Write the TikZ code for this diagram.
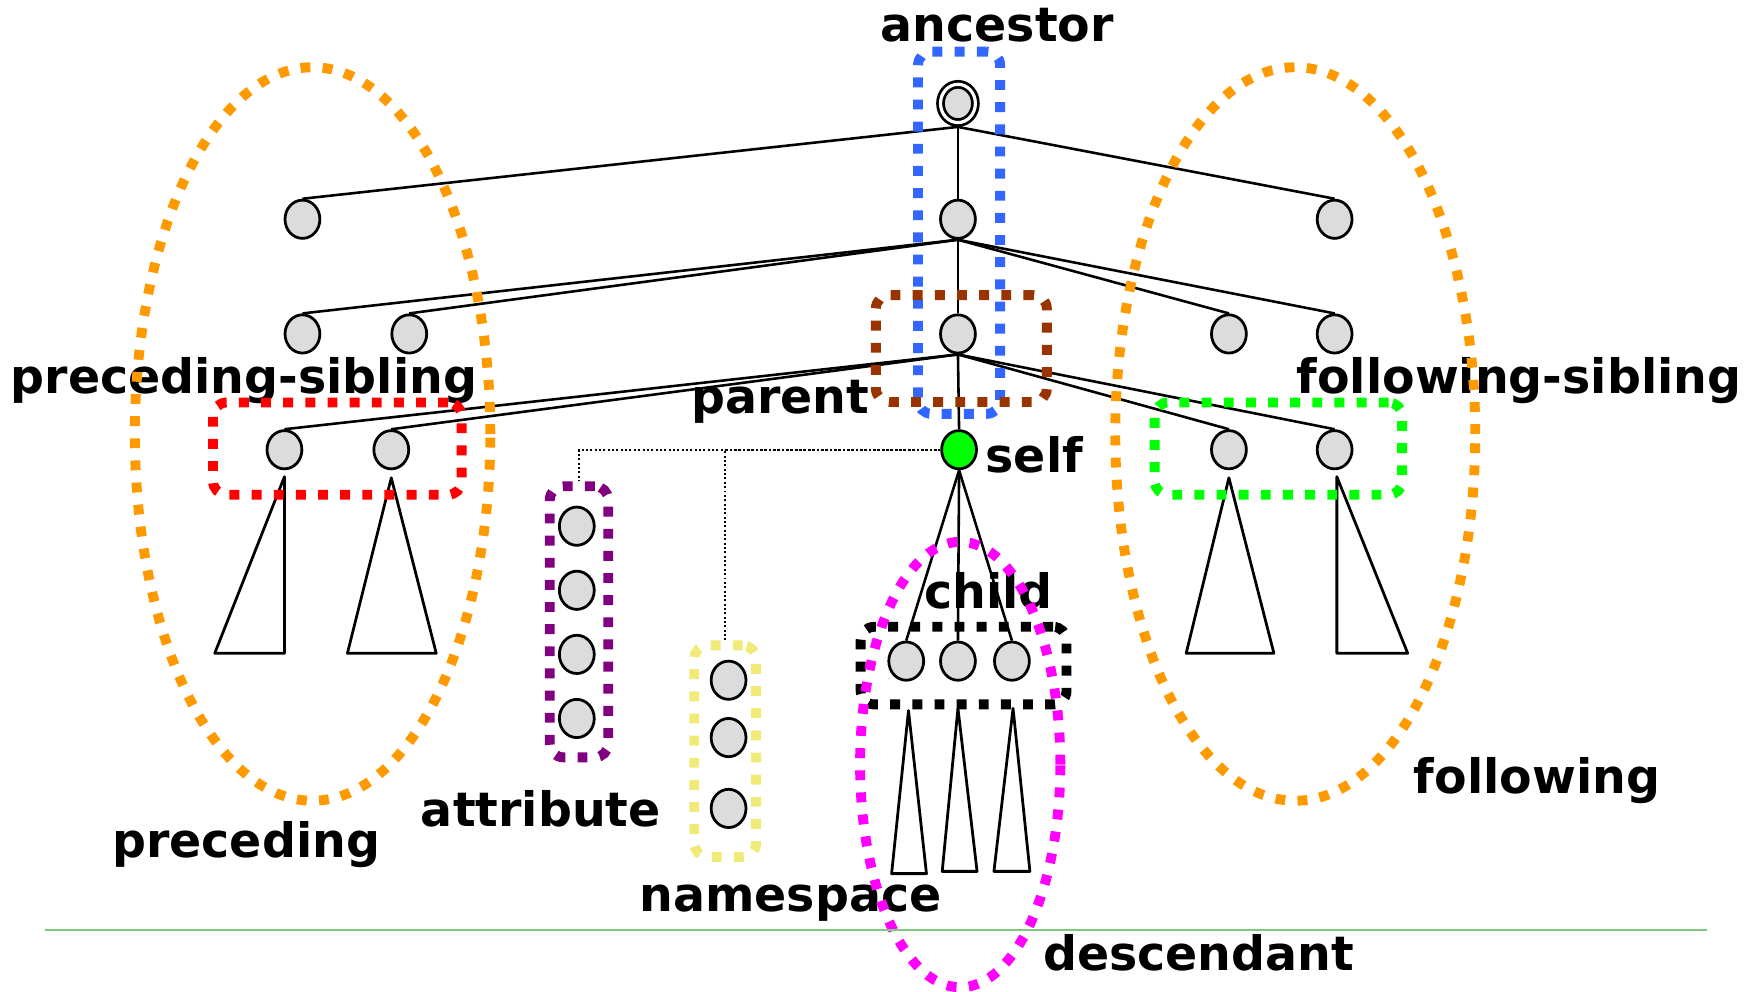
\documentclass[tikz,border=0pt]{standalone}
\usepackage{fontspec}
\setmainfont{DejaVu Sans}
\usepackage{tikz}
\usetikzlibrary{shapes.geometric}

\definecolor{nodegray}{RGB}{220,220,220}
\definecolor{selfgreen}{RGB}{0,255,0}
\definecolor{ancblue}{RGB}{51,102,255}
\definecolor{parbrown}{RGB}{153,51,0}
\definecolor{sibred}{RGB}{255,0,0}
\definecolor{sibgreen}{RGB}{0,255,0}
\definecolor{attrpurple}{RGB}{128,0,128}
\definecolor{nsyellow}{RGB}{240,235,120}
\definecolor{descmagenta}{RGB}{255,0,255}
\definecolor{axisorange}{RGB}{255,153,0}
\definecolor{rulegreen}{RGB}{128,200,128}

\begin{document}
\begin{tikzpicture}[x=0.01cm, y=-0.01cm,
    treenode/.style={ellipse, draw, fill=nodegray, line width=0.7pt, inner sep=0pt, minimum width=0.31cm, minimum height=0.34cm},
    treeline/.style={line width=0.65pt},
    subtree/.style={line width=0.7pt, line join=round},
    axisbox/.style={rectangle, draw=#1, rounded corners=0.12cm, line width=2.5pt, dash pattern=on 2.5pt off 3.1pt, inner sep=0pt},
    axisoval/.style={ellipse, draw=#1, line width=2.5pt, dash pattern=on 2.5pt off 3.1pt, inner sep=0pt},
    axislabel/.style={anchor=base, inner sep=0pt, font=\fontsize{12}{14}\selectfont\bfseries},
    nsline/.style={line width=0.5pt, dash pattern=on 0.5pt off 0.6pt}]
    \useasboundingbox (0,0) rectangle (1568,882);

    % Tree - root and three levels
    \node[treenode, double=white, double distance=0.8pt, outer sep=1.1pt, minimum width=0.31cm, minimum height=0.34cm] (root) at (852,92) {};
    \node[treenode] (n1l) at (269,195) {};
    \node[treenode] (n1m) at (852,195) {};
    \node[treenode] (n1r) at (1187,195) {};
    \node[treenode] (n2a) at (269,297) {};
    \node[treenode] (n2b) at (364,297) {};
    \node[treenode] (par) at (852,297) {};
    \node[treenode] (n2d) at (1093,297) {};
    \node[treenode] (n2e) at (1187,297) {};
    \node[treenode] (sib1) at (253,400) {};
    \node[treenode] (sib2) at (348,400) {};
    \node[treenode, fill=selfgreen] (self) at (853,400) {};
    \node[treenode] (sib3) at (1093,400) {};
    \node[treenode] (sib4) at (1187,400) {};

    % Children of self
    \node[treenode] (ch1) at (806,588) {};
    \node[treenode] (ch2) at (852,588) {};
    \node[treenode] (ch3) at (900,588) {};

    % Attribute and namespace nodes
    \node[treenode] (at1) at (513,468) {};
    \node[treenode] (at2) at (513,525) {};
    \node[treenode] (at3) at (513,582) {};
    \node[treenode] (at4) at (513,639) {};
    \node[treenode] (ns1) at (648,605) {};
    \node[treenode] (ns2) at (648,656) {};
    \node[treenode] (ns3) at (648,719) {};

    % Tree edges
    \draw[treeline] (root.south) -- (n1l.north);
    \draw[treeline] (root.south) -- (n1m.north);
    \draw[treeline] (root.south) -- (n1r.north);
    \draw[treeline] (n1m.south) -- (n2a.north);
    \draw[treeline] (n1m.south) -- (n2b.north);
    \draw[treeline] (n1m.south) -- (par.north);
    \draw[treeline] (n1m.south) -- (n2d.north);
    \draw[treeline] (n1m.south) -- (n2e.north);
    \draw[treeline] (par.south) -- (sib1.north);
    \draw[treeline] (par.south) -- (sib2.north);
    \draw[treeline] (par.south) -- (self.north);
    \draw[treeline] (par.south) -- (sib3.north);
    \draw[treeline] (par.south) -- (sib4.north);
    \draw[treeline] (self.south) -- (ch1.north);
    \draw[treeline] (self.south) -- (ch2.north);
    \draw[treeline] (self.south) -- (ch3.north);

    % Subtrees
    \draw[subtree] (253,424) -- (191,581) -- (253,581) -- cycle;
    \draw[subtree] (348,425) -- (309,581) -- (388,581) -- cycle;
    \draw[subtree] (1093,425) -- (1055,581) -- (1133,581) -- cycle;
    \draw[subtree] (1189,424) -- (1189,581) -- (1252,581) -- cycle;
    \draw[subtree] (808,632) -- (793,777) -- (824,777) -- cycle;
    \draw[subtree] (852,630) -- (838,775) -- (869,775) -- cycle;
    \draw[subtree] (901,630) -- (884,775) -- (916,775) -- cycle;

    % Axis labels
    \node[axislabel] (lblanc) at (887,37) {ancestor};
    \node[axislabel] (lblpresib) at (217,350) {preceding-sibling};
    \node[axislabel] (lblfolsib) at (1351,350) {following-sibling};
    \node[axislabel] (lblpar) at (694,368) {parent};
    \node[axislabel] (lblself) at (920,420) {self};
    \node[axislabel] (lblchild) at (879,541) {child};
    \node[axislabel] (lblattr) at (481,735) {attribute};
    \node[axislabel] (lblprec) at (219,763) {preceding};
    \node[axislabel] (lblns) at (703,811) {namespace};
    \node[axislabel] (lbldesc) at (1066,863) {descendant};
    \node[axislabel] (lblfol) at (1367,706) {following};

    % Axis regions
    \node[axisbox=ancblue, minimum width=0.73cm, minimum height=3.22cm] (ancbox) at (853,207) {};
    \node[axisbox=parbrown, minimum width=1.52cm, minimum height=0.95cm] (parbox) at (855,310) {};
    \node[axisbox=sibred, minimum width=2.21cm, minimum height=0.82cm] (presibbox) at (300,399) {};
    \node[axisbox=sibgreen, minimum width=2.20cm, minimum height=0.82cm] (folsibbox) at (1137,399) {};
    \node[axisbox=black, minimum width=1.83cm, minimum height=0.69cm] (childbox) at (857,592) {};
    \node[axisbox=attrpurple, minimum width=0.52cm, minimum height=2.41cm] (attrbox) at (515,553) {};
    \node[axisbox=nsyellow, minimum width=0.55cm, minimum height=1.88cm] (nsbox) at (645,668) {};
    \node[axisoval=axisorange, minimum width=3.16cm, minimum height=6.52cm] (precoval) at (278,386) {};
    \node[axisoval=axisorange, minimum width=3.20cm, minimum height=6.52cm] (foloval) at (1152,386) {};
    \node[axisoval=descmagenta, minimum width=1.78cm, minimum height=3.96cm] (descoval) at (854,680) {};

    % Attribute and namespace links
    \draw[nsline] (self.west) -| (attrbox.north);
    \draw[nsline] (nsbox.north) |- (self.west);

    \draw[rulegreen, line width=0.5pt] (40,827) -- (1518,827);
\end{tikzpicture}
\end{document}
